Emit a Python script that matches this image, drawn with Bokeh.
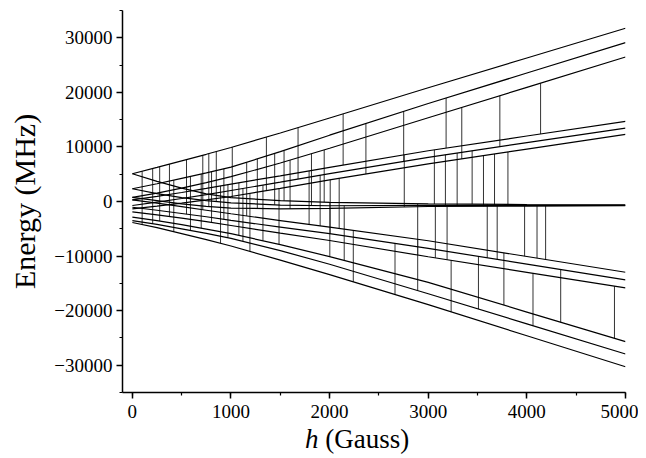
from bokeh.plotting import figure
from bokeh.models import Range1d, FixedTicker, Div
from bokeh.layouts import column
from bokeh.embed import file_html
from bokeh.resources import INLINE
import numpy as np

# magnetic field grid (Gauss) at which level energies were read
h_grid = [0, 250, 500, 750, 1000, 1500, 2000, 3000, 4000, 5000]

# energy levels (MHz)
T1 = [5080, 6250, 7450, 8650, 9900, 12550, 15300, 20850, 26300, 31740]
T2 = [2330, 3250, 4250, 5250, 6290, 9150, 12150, 17960, 23540, 29120]
T3 = [750, 1550, 2450, 3450, 4550, 7050, 9750, 15340, 20910, 26480]
U1 = [300, 950, 1650, 2400, 3200, 4700, 6250, 9300, 12000, 14680]
U2 = [-730, -100, 550, 1250, 2020, 3550, 5100, 8100, 10780, 13450]
U3 = [-1340, -850, -300, 300, 920, 2400, 3950, 6880, 9600, 12290]
C1 = [5080, 3700, 2450, 1400, 700, 150, -150, -450, -560, -600]
C2 = [2330, 1450, 700, 150, -250, -650, -780, -720, -700, -700]
C3 = [750, 150, -450, -900, -1200, -1350, -1250, -920, -830, -780]
L1 = [300, -300, -950, -1600, -2250, -3500, -4700, -7190, -10080, -12970]
L2 = [-1050, -1600, -2200, -2800, -3450, -4700, -5900, -8590, -11480, -14370]
L3 = [-1900, -2450, -3050, -3700, -4400, -5800, -7150, -10130, -12980, -15830]
B1 = [-2880, -3500, -4250, -5050, -5900, -7900, -10100, -14830, -20260, -25690]
B2 = [-3490, -4200, -5000, -5850, -6750, -9000, -11500, -16900, -22420, -27950]
B3 = [-3850, -4800, -5900, -7000, -8150, -10750, -13400, -18910, -24600, -30280]

levels = {"T1": T1, "T2": T2, "T3": T3, "U1": U1, "U2": U2, "U3": U3,
          "C1": C1, "C2": C2, "C3": C3, "L1": L1, "L2": L2, "L3": L3,
          "B1": B1, "B2": B2, "B3": B3}

# resonance transitions: field (Gauss), upper level, lower level
trans_h = [99, 206, 277, 376, 420, 549, 589, 698, 714, 775, 803, 851, 894, 928,
           969, 1013, 1080, 1121, 1159, 1192, 1267, 1324, 1359, 1443, 1487, 1538,
           1599, 1680, 1792, 1816, 1904, 1945, 2006, 2097, 2002, 2148, 2240,
           2137, 2368, 2751, 3181, 3340, 3726, 4139,
           2757, 3062, 3174, 3293, 3445, 3560, 3672, 3808,
           2893, 3072, 3191, 3598, 3699, 3977, 4103, 4190,
           2663, 2893, 3232, 3509, 3767, 4062, 4343, 4888]
trans_hi = ["T1", "T1", "T1", "T1", "T2", "T1", "T2", "T2", "T1", "T1", "T2", "T1", "U1", "T2",
            "U1", "T1", "U1", "U2", "T2", "U3", "T2", "U2", "T1", "T2", "U3", "T2",
            "T3", "T1", "U1", "T3", "U2", "T3", "U3", "U3", "C1", "C2", "L1",
            "T1", "T2", "T2", "T2", "T3", "T3", "T3",
            "U1", "U1", "U2", "U2", "U2", "U3", "U3", "U3",
            "C1", "C2", "C3", "C1", "C2", "C1", "C2", "C3",
            "L2", "L1", "L3", "L2", "L1", "L3", "L2", "L3"]
trans_lo = ["B3", "B2", "B1", "L3", "B3", "L2", "B2", "B1", "L1", "C3", "L3", "C2", "B3", "L2",
            "B2", "C1", "B1", "B2", "L1", "B3", "C3", "B1", "U3", "C2", "B1", "C1",
            "C3", "U2", "L1", "C2", "L1", "C1", "L2", "L1", "B1", "B1", "B3",
            "U1", "U3", "U2", "U1", "U3", "U2", "U1",
            "C3", "C1", "C3", "C2", "C1", "C3", "C2", "C1",
            "L3", "L3", "L3", "L2", "L2", "L1", "L1", "L1",
            "B3", "B2", "B3", "B2", "B1", "B2", "B1", "B1"]

x_ticks = [0, 1000, 2000, 3000, 4000, 5000]
y_ticks = [-30000, -20000, -10000, 0, 10000, 20000, 30000]

p = figure(width=638, height=426, output_backend="svg", toolbar_location=None,
           x_range=Range1d(-100, 5000), y_range=Range1d(-35000, 35000),
           min_border_left=122, min_border_right=13, min_border_top=10,
           min_border_bottom=34)
p.outline_line_color = None
p.grid.visible = False
p.background_fill_color = "white"

# transitions
y_top = [float(np.interp(h, h_grid, levels[a])) for h, a in zip(trans_h, trans_hi)]
y_bot = [float(np.interp(h, h_grid, levels[b])) for h, b in zip(trans_h, trans_lo)]
p.segment(x0=trans_h, y0=y_bot, x1=trans_h, y1=y_top, line_color="#333333", line_width=1.0)

# levels
p.multi_line(xs=[h_grid] * len(levels), ys=list(levels.values()),
             line_color="black", line_width=1.2)

font = "Liberation Serif"
for ax in (p.xaxis[0], p.yaxis[0]):
    ax.axis_line_width = 1.5
    ax.major_tick_line_width = 1.5
    ax.minor_tick_line_width = 1.2
    ax.major_tick_out = 6
    ax.major_tick_in = 0
    ax.minor_tick_out = 3
    ax.minor_tick_in = 0
    ax.major_label_text_font = font
    ax.major_label_text_font_size = "19px"
    ax.major_label_text_color = "black"

p.xaxis.ticker = FixedTicker(ticks=x_ticks, minor_ticks=list(range(0, 5001, 500)))
p.yaxis.ticker = FixedTicker(ticks=y_ticks, minor_ticks=list(range(-35000, 35001, 5000)))
p.xaxis.major_label_standoff = 6
p.yaxis.major_label_standoff = 4

p.yaxis.axis_label = "Energy (MHz)"
p.yaxis.axis_label_text_font = font
p.yaxis.axis_label_text_font_style = "normal"
p.yaxis.axis_label_text_font_size = "30px"
p.yaxis.axis_label_text_color = "black"
p.yaxis.axis_label_standoff = 10

xlabel = Div(
    text="<div style=\"font-family:'Liberation Serif',serif;font-size:27px;"
         "line-height:26px;padding-left:305px;white-space:nowrap;color:black;\">"
         "<i>h</i> (Gauss)</div>",
    width=638, height=28, margin=(0, 0, 0, 0))

layout = column(p, xlabel, spacing=0)
open("out.html", "w").write(file_html(layout, INLINE))
